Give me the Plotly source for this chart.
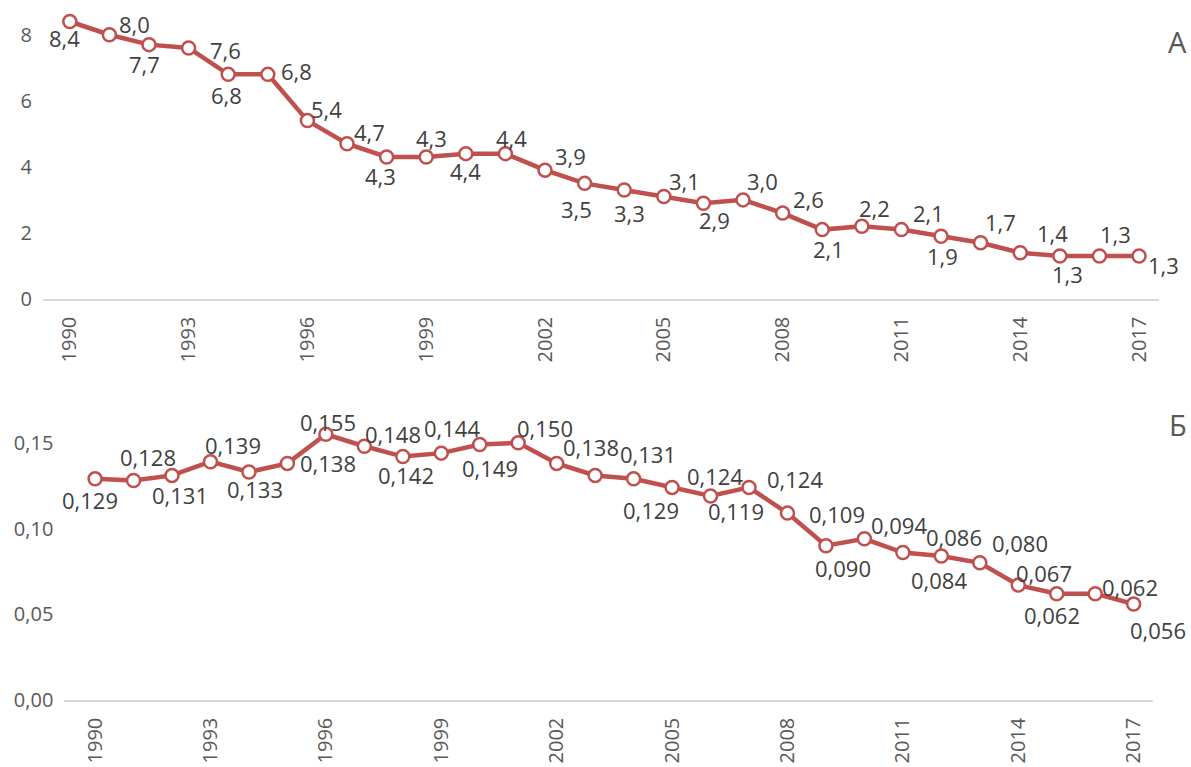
import plotly.graph_objects as go

years = list(range(1990, 2018))
values_a = [8.4, 8.0, 7.7, 7.6, 6.8, 6.8, 5.4, 4.7, 4.3, 4.3, 4.4, 4.4, 3.9, 3.5,
            3.3, 3.1, 2.9, 3.0, 2.6, 2.1, 2.2, 2.1, 1.9, 1.7, 1.4, 1.3, 1.3, 1.3]
values_b = [0.129, 0.128, 0.131, 0.139, 0.133, 0.138, 0.155, 0.148, 0.142, 0.144,
            0.149, 0.150, 0.138, 0.131, 0.129, 0.124, 0.119, 0.124, 0.109, 0.090,
            0.094, 0.086, 0.084, 0.080, 0.067, 0.062, 0.062, 0.056]
year_ticks = list(range(1990, 2018, 3))
ticks_a = [0, 2, 4, 6, 8]
ticks_b = [0.0, 0.05, 0.10, 0.15]
panel_labels = ["А", "Б"]

# data-label offsets from each point, in screen pixels (dx right, dy down)
offs_a = [(-5, 16), (25, -11), (-5, 19), (37, 2), (-2, 21), (29, -3), (19, -12),
          (22, -12), (-6, 19), (5, -19), (0, 17), (6, -16), (25, -14), (-8, 26),
          (5, 23), (21, -16), (11, 17), (19, -19), (26, -14), (6, 19), (13, -18),
          (27, -17), (1, 20), (20, -21), (32, -20), (8, 18), (16, -22), (24, 9)]
offs_b = [(-5, 21), (14, -24), (8, 20), (23, -17), (6, 17), (41, 0), (2, -12),
          (29, -12), (3, 18), (11, -25), (10, 23), (27, -15), (34, -16), (53, -21),
          (17, 31), (43, -11), (25, 15), (46, -8), (50, 1), (17, 22), (35, -14),
          (51, -16), (-2, 24), (40, -20), (26, -12), (-5, 21), (35, -7), (24, 26)]

RED = "#C0504D"
TICK = "#595959"
LBL = "#404040"
FONT = "Open Sans"

fig = go.Figure()
common = dict(mode="lines+markers",
              line=dict(color=RED, width=4.5),
              marker=dict(size=13, color="white", line=dict(color=RED, width=2.5)),
              cliponaxis=False, showlegend=False, hoverinfo="skip")
fig.add_trace(go.Scatter(x=years, y=values_a, xaxis="x", yaxis="y", **common))
fig.add_trace(go.Scatter(x=years, y=values_b, xaxis="x2", yaxis="y2", **common))

annotations = []
for yr, v, (dx, dy) in zip(years, values_a, offs_a):
    annotations.append(dict(x=yr, y=v, xref="x", yref="y", text=f"{v:.1f}".replace(".", ","),
                            showarrow=False, xshift=dx, yshift=-dy,
                            xanchor="center", yanchor="middle",
                            font=dict(family=FONT, size=22, color=LBL)))
for yr, v, (dx, dy) in zip(years, values_b, offs_b):
    annotations.append(dict(x=yr, y=v, xref="x2", yref="y2", text=f"{v:.3f}".replace(".", ","),
                            showarrow=False, xshift=dx, yshift=-dy,
                            xanchor="center", yanchor="middle",
                            font=dict(family=FONT, size=22, color=LBL)))
annotations.append(dict(text=panel_labels[0], x=1177 / 1191, y=1 - 41 / 767, xref="paper",
                        yref="paper", showarrow=False, xanchor="center", yanchor="middle",
                        font=dict(family=FONT, size=29, color=TICK)))
annotations.append(dict(text=panel_labels[1], x=1178 / 1191, y=1 - 425 / 767, xref="paper",
                        yref="paper", showarrow=False, xanchor="center", yanchor="middle",
                        font=dict(family=FONT, size=29, color=TICK)))

xcommon = dict(tickvals=year_ticks, tickangle=-90, showgrid=False, zeroline=False,
               showline=True, linecolor="#D9D9D9", linewidth=1.5, ticks="",
               automargin=False,
               tickfont=dict(family=FONT, size=20, color=TICK), ticklabelstandoff=8)
ycommon = dict(showgrid=False, zeroline=False, showline=False, ticks="",
               automargin=False,
               tickfont=dict(family=FONT, size=20, color=TICK), ticklabelstandoff=10)

fig.update_layout(
    width=1191, height=767,
    margin=dict(l=0, r=0, t=0, b=0),
    paper_bgcolor="white", plot_bgcolor="white",
    separators=", ",
    font=dict(family=FONT),
    xaxis=dict(domain=[0.036, 0.973], range=[1989.32, 2017.5], anchor="y", **xcommon),
    yaxis=dict(domain=[0.6102, 0.9935], range=[0, 8.9], tickvals=ticks_a,
               tickformat="d", anchor="x", **ycommon),
    xaxis2=dict(domain=[0.054, 0.968], range=[1989.2, 2017.5], anchor="y2", **xcommon),
    yaxis2=dict(domain=[0.0874, 0.4785], range=[0, 0.175], tickvals=ticks_b,
                tickformat=".2f", anchor="x2", **ycommon),
    annotations=annotations,
)

fig.write_html("out.html", config={"displayModeBar": False},
               post_script="document.body.style.margin='0';document.body.style.overflow='hidden';")
